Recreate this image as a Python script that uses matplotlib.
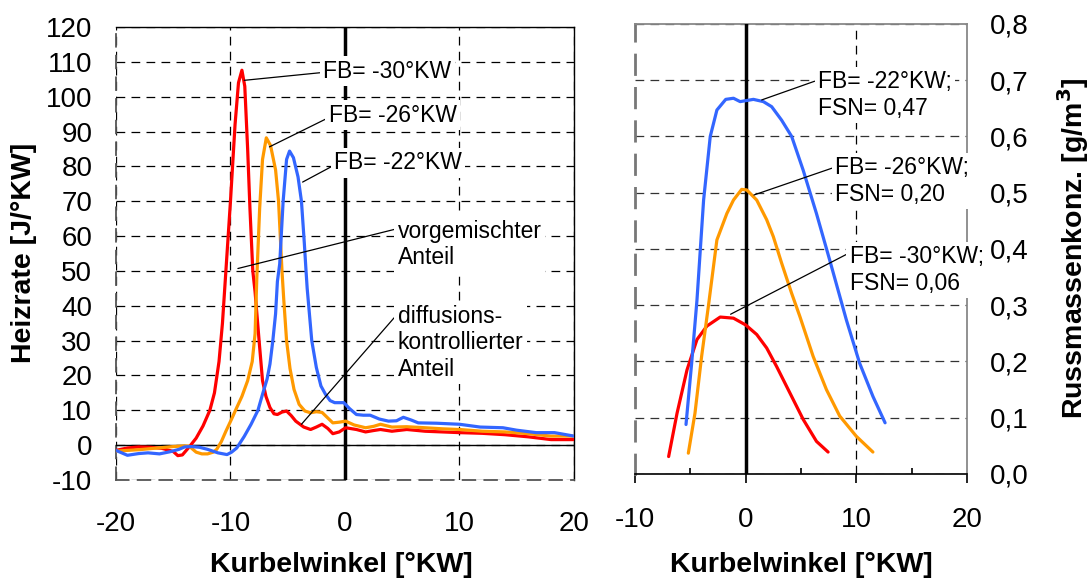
import matplotlib
matplotlib.use("Agg")
import matplotlib.pyplot as plt

plt.rcParams["font.family"] = ["Liberation Sans", "DejaVu Sans"]
plt.rcParams["axes.unicode_minus"] = False

# ---- left panel: Heizrate vs Kurbelwinkel ----
hr_red_x = [-20, -19, -18, -17, -16, -15, -14.6, -14.2, -13.6, -13, -12.4, -11.8, -11.4, -11,
            -10.7, -10.4, -10.0, -9.6, -9.3, -9.0, -8.75, -8.5, -8.3, -8.05, -7.85, -7.5, -7.2,
            -6.9, -6.55, -6.2, -5.9, -5.5, -5.1, -4.7, -4.3, -3.6, -3.0, -2.5, -2.0, -1.5, -1.06,
            -0.5, 0.06, 1.0, 1.8, 2.5, 3.1, 4.1, 5.4, 7, 8.5, 10, 12, 14, 16, 18, 20]
hr_red_y = [-1.5, -0.8, -0.5, -0.6, -0.9, -1.8, -3.0, -2.8, -0.5, 2, 5.5, 10, 15, 24,
            35, 50, 70, 92, 104, 107.6, 103, 85, 68, 50, 44, 30, 18.5,
            14, 10.8, 9, 8.8, 9.5, 9.8, 8.5, 6.9, 5.2, 4.5, 5.2, 6.0, 4.8, 3.3,
            3.8, 5.0, 4.5, 3.8, 4.2, 4.5, 4.0, 4.5, 4.0, 3.8, 3.6, 3.4, 3.0, 2.4, 1.6, 1.6]

hr_orange_x = [-20, -19, -18, -17, -16, -15, -14, -13.6, -13, -12.5, -12, -11.5, -11.2, -10.8,
               -10.4, -9.9, -9.45, -9.0, -8.5, -8.1, -7.85, -7.7, -7.45, -7.2, -6.87, -6.5, -6.06,
               -5.8, -5.5, -5.35, -5.1, -4.8, -4.45, -4.0, -3.5, -3.0, -2.5, -2.0, -1.5, -1.06,
               -0.5, 0.06, 0.8, 1.8, 2.5, 3.1, 4.1, 5.4, 7, 8.5, 10, 12, 14, 16, 18, 20]
hr_orange_y = [-1.7, -1.5, -1.3, -1.0, -0.7, -0.4, -0.2, -0.3, -2.0, -2.5, -2.5, -2.0, -1.2, 1,
               4, 7.5, 10.8, 14, 18.5, 24, 32, 48, 68, 82, 88.2, 86, 79,
               70, 50, 42, 30, 22, 16, 11.7, 9.8, 9.3, 9.6, 9.4, 7.8, 6.4,
               6.6, 6.9, 5.8, 5.0, 5.4, 6.0, 5.2, 5.3, 5.0, 4.7, 4.5, 4.0, 3.8, 3.3, 2.6, 2.6]

hr_blue_x = [-20, -19, -18, -17.2, -16.2, -15.3, -14.5, -14, -13.4, -12.7, -12, -11.1, -10.3,
             -9.9, -9.45, -8.8, -8.2, -7.6, -7.2, -6.8, -6.55, -6.3, -6.06, -5.9, -5.7, -5.4,
             -5.1, -4.84, -4.5, -4.1, -3.8, -3.55, -3.4, -3.3, -2.9, -2.5, -2.1, -1.7, -1.3,
             -0.9, -0.1, 0.4, 1.0, 1.6, 2.2, 3.0, 3.8, 4.5, 5.1, 5.8, 6.4, 8, 10, 11.8, 13.8,
             15, 16.7, 18.3, 19.5, 20]
hr_blue_y = [-1.5, -2.9, -2.4, -2.2, -2.5, -1.9, -1.2, -0.5, -0.4, -0.6, -1.2, -2.2, -2.7,
             -2.0, -0.8, 2.5, 6, 10, 14.6, 19, 23.3, 30, 37.7, 47, 52, 70,
             82, 84.4, 82.5, 77, 70, 58, 50, 45, 30, 22.3, 17, 14.6, 12.8,
             12.2, 12.2, 10.5, 8.8, 8.6, 8.6, 7.5, 6.9, 7.0, 8.0, 7.2, 6.4, 6.3, 6.0, 5.2, 5.0,
             4.3, 3.6, 3.6, 2.9, 2.6]

hr_xticks = [-20, -10, 0, 10, 20]
hr_xticklabels = ["-20", "-10", "0", "10", "20"]
hr_yticks = [-10, 0, 10, 20, 30, 40, 50, 60, 70, 80, 90, 100, 110, 120]
hr_yticklabels = [str(v) for v in hr_yticks]

# ---- right panel: Russmassenkonzentration vs Kurbelwinkel ----
rm_red_x = [-6.96, -6.2, -5.3, -4.4, -3.5, -2.3, -1.1, 0, 1.0, 1.9, 2.8, 4.0, 5.2, 6.4, 7.45]
rm_red_y = [0.031, 0.108, 0.185, 0.239, 0.263, 0.279, 0.277, 0.265, 0.248, 0.224, 0.191,
            0.144, 0.097, 0.058, 0.039]

rm_orange_x = [-5.18, -4.58, -3.98, -3.37, -2.6, -1.7, -1.1, -0.36, 0.1, 1.0, 1.9, 2.5, 3.25,
               4.16, 4.9, 6.1, 7.3, 8.5, 10, 11.5]
rm_orange_y = [0.037, 0.108, 0.209, 0.298, 0.416, 0.463, 0.487, 0.506, 0.505, 0.487, 0.452,
               0.422, 0.375, 0.321, 0.28, 0.209, 0.15, 0.103, 0.067, 0.039]

rm_blue_x = [-5.39, -4.88, -4.4, -3.8, -3.2, -2.6, -1.8, -1.1, -0.5, 0.7, 1.6, 2.35, 3.25,
             4.16, 5.2, 6.4, 7.6, 9.1, 10.3, 11.5, 12.6]
rm_blue_y = [0.088, 0.197, 0.309, 0.487, 0.6, 0.647, 0.666, 0.668, 0.662, 0.666, 0.662, 0.653,
             0.629, 0.6, 0.54, 0.463, 0.38, 0.274, 0.197, 0.138, 0.091]

rm_xticks = [-10, 0, 10, 20]
rm_xticklabels = ["-10", "0", "10", "20"]
rm_yticks = [0.0, 0.1, 0.2, 0.3, 0.4, 0.5, 0.6, 0.7, 0.8]
rm_yticklabels = ["0,0", "0,1", "0,2", "0,3", "0,4", "0,5", "0,6", "0,7", "0,8"]

RED = "#FF0000"
ORANGE = "#FF9900"
BLUE = "#3366FF"
DASH = (0, (7, 5))
TICK_FS = 20
LABEL_FS = 20.5
ANN_FS = 16.5

fig = plt.figure(figsize=(10.92, 5.81), dpi=100)
ax1 = fig.add_axes([0.1062, 0.1738, 0.4194, 0.7797])
ax2 = fig.add_axes([0.5815, 0.1842, 0.3040, 0.7745])

box = dict(boxstyle="square,pad=0.15", fc="white", ec="none")


def annotate(ax, text, xy, xytext, rely):
    ax.annotate(text, xy=xy, xytext=xytext, ha="left", va="center", fontsize=ANN_FS,
                linespacing=1.2, bbox=box, zorder=6,
                arrowprops=dict(arrowstyle="-", color="black", lw=0.9, shrinkA=0, shrinkB=0,
                                relpos=(0, rely)))


# left panel
ax1.plot(hr_red_x, hr_red_y, color=RED, lw=2.3, zorder=4)
ax1.plot(hr_orange_x, hr_orange_y, color=ORANGE, lw=2.3, zorder=4)
ax1.plot(hr_blue_x, hr_blue_y, color=BLUE, lw=2.3, zorder=4)
ax1.axhline(0, color="black", lw=1.0, zorder=3)
ax1.axvline(0, color="black", lw=2.5, zorder=3)
ax1.set_xlim(-20, 20)
ax1.set_ylim(-10, 120)
ax1.set_xticks(hr_xticks)
ax1.set_xticklabels(hr_xticklabels)
ax1.set_yticks(hr_yticks)
ax1.set_yticklabels(hr_yticklabels)
ax1.tick_params(axis="both", length=0, labelsize=TICK_FS)
ax1.tick_params(axis="x", pad=22)
ax1.tick_params(axis="y", pad=17)
ax1.grid(True, color="black", lw=0.9, linestyle=DASH)
ax1.set_axisbelow(True)
for side in ["top", "right"]:
    ax1.spines[side].set_color("black")
    ax1.spines[side].set_linewidth(1.0)
for side in ["left", "bottom"]:
    ax1.spines[side].set_color("#555555")
    ax1.spines[side].set_linewidth(1.3)
    ax1.spines[side].set_linestyle(DASH)

annotate(ax1, "FB= -30°KW", (-8.8, 104.7), (-1.9, 107.3), 0.45)
annotate(ax1, "FB= -26°KW", (-6.6, 85.6), (-1.4, 94.7), 0.4)
annotate(ax1, "FB= -22°KW", (-3.7, 75.5), (-0.95, 81.0), 0.4)
annotate(ax1, "vorgemischter\nAnteil", (-9.35, 50.7), (4.6, 57.6), 0.82)
annotate(ax1, "diffusions-\nkontrollierter\nAnteil", (-3.8, 6.0), (4.6, 29.4), 0.88)

# right panel
ax2.plot(rm_red_x, rm_red_y, color=RED, lw=2.3, zorder=4, solid_capstyle="round")
ax2.plot(rm_orange_x, rm_orange_y, color=ORANGE, lw=2.3, zorder=4, solid_capstyle="round")
ax2.plot(rm_blue_x, rm_blue_y, color=BLUE, lw=2.3, zorder=4, solid_capstyle="round")
ax2.axvline(0, color="black", lw=2.5, zorder=3)
ax2.set_xlim(-10, 20)
ax2.set_ylim(0, 0.8)
ax2.set_xticks(rm_xticks)
ax2.set_xticklabels(rm_xticklabels)
ax2.set_xticks([-5, 5, 15], minor=True)
ax2.set_yticks(rm_yticks)
ax2.set_yticklabels(rm_yticklabels)
ax2.yaxis.tick_right()
ax2.tick_params(axis="y", length=0, labelsize=TICK_FS, pad=16.5)
ax2.tick_params(axis="x", which="major", direction="out", length=6.5, width=1.2,
                labelsize=TICK_FS, pad=17)
ax2.tick_params(axis="x", which="minor", direction="in", length=4, width=1.2)
ax2.grid(True, axis="y", color="#333333", lw=0.9, linestyle=DASH)
ax2.axvline(10, color="black", lw=0.9, linestyle=DASH, zorder=1)
ax2.set_axisbelow(True)
for side in ["top", "right"]:
    ax2.spines[side].set_color("#888888")
    ax2.spines[side].set_linewidth(1.3)
ax2.spines["left"].set_color("#777777")
ax2.spines["left"].set_linewidth(2.0)
ax2.spines["left"].set_linestyle(DASH)
ax2.spines["bottom"].set_color("black")
ax2.spines["bottom"].set_linewidth(1.2)

annotate(ax2, "FB= -22°KW;\nFSN= 0,47", (1.45, 0.665), (6.55, 0.674), 0.8)
annotate(ax2, "FB= -26°KW;\nFSN= 0,20", (0.75, 0.496), (8.1, 0.521), 0.78)
annotate(ax2, "FB= -30°KW;\nFSN= 0,06", (-1.36, 0.284), (9.4, 0.3625), 0.85)

# axis labels
fig.text(0.022, 0.565, "Heizrate [J/°KW]", rotation=90, ha="center", va="center",
         fontsize=LABEL_FS, fontweight="bold")
fig.text(0.983, 0.572, "Russmassenkonz. [g/m$^\\mathbf{3}$]", rotation=90, ha="center",
         va="center", fontsize=LABEL_FS, fontweight="bold")
fig.text(0.3125, 0.028, "Kurbelwinkel [°KW]", ha="center", va="center",
         fontsize=LABEL_FS, fontweight="bold")
fig.text(0.734, 0.028, "Kurbelwinkel [°KW]", ha="center", va="center",
         fontsize=LABEL_FS, fontweight="bold")

fig.savefig("out.png", dpi=100)
